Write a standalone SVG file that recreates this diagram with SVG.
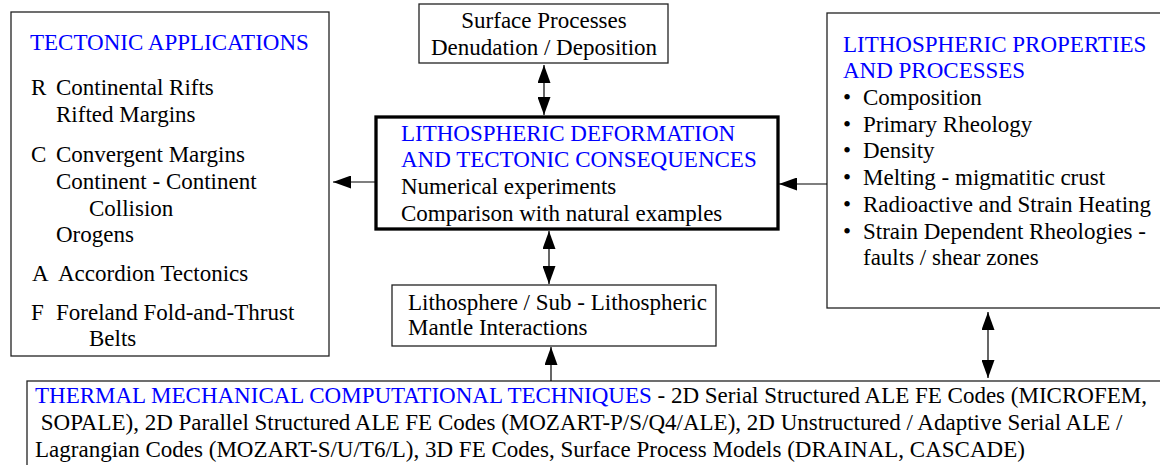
<svg xmlns="http://www.w3.org/2000/svg" width="1160" height="465" viewBox="0 0 1160 465">
<style>
text{font-family:"Liberation Serif","Times New Roman",serif;font-size:23px;fill:#000}
.h{fill:#0000ff}
.box{fill:#fff;stroke:#222;stroke-width:1.3}
.main{fill:#fff;stroke:#000;stroke-width:3.3}
.c{stroke:#000;stroke-width:1.2;fill:none}
</style>
<defs>
<marker id="ah" markerWidth="18" markerHeight="13" refX="18" refY="6.5" orient="auto-start-reverse" markerUnits="userSpaceOnUse"><path d="M0,0 L18,6.5 L0,13 z" fill="#000"/></marker>
</defs>
<rect width="1160" height="465" fill="#fff"/>

<g id="tectonic-applications">
<rect class="box" x="11" y="12" width="318" height="344"/>
<text class="h" x="30" y="50">TECTONIC APPLICATIONS</text>
<text x="31" y="95">R</text><text x="56" y="95">Continental Rifts</text>
<text x="56" y="122">Rifted Margins</text>
<text x="31" y="162">C</text><text x="56" y="162">Convergent Margins</text>
<text x="56" y="189">Continent - Continent</text>
<text x="89" y="216">Collision</text>
<text x="56" y="242">Orogens</text>
<text x="32" y="281">A</text><text x="58" y="281">Accordion Tectonics</text>
<text x="31" y="320">F</text><text x="56" y="320">Foreland Fold-and-Thrust</text>
<text x="89" y="346">Belts</text>
</g>

<g id="surface-processes">
<rect class="box" x="419" y="4" width="249" height="59"/>
<text x="544" y="28" text-anchor="middle">Surface Processes</text>
<text x="544" y="55" text-anchor="middle">Denudation / Deposition</text>
</g>

<g id="lithospheric-deformation">
<rect class="main" x="376" y="117" width="402" height="112"/>
<text class="h" x="401" y="141">LITHOSPHERIC DEFORMATION</text>
<text class="h" x="401" y="167">AND TECTONIC CONSEQUENCES</text>
<text x="401" y="194">Numerical experiments</text>
<text x="401" y="221">Comparison with natural examples</text>
</g>

<g id="lithospheric-properties">
<rect class="box" x="827" y="13" width="340" height="295"/>
<text class="h" x="843" y="52">LITHOSPHERIC PROPERTIES</text>
<text class="h" x="843" y="78">AND PROCESSES</text>
<text x="843" y="105">•</text><text x="863" y="105">Composition</text>
<text x="843" y="132">•</text><text x="863" y="132">Primary Rheology</text>
<text x="843" y="158">•</text><text x="863" y="158">Density</text>
<text x="843" y="185">•</text><text x="863" y="185">Melting - migmatitic crust</text>
<text x="843" y="212">•</text><text x="863" y="212">Radioactive and Strain Heating</text>
<text x="843" y="239">•</text><text x="863" y="239">Strain Dependent Rheologies -</text>
<text x="863" y="265">faults / shear zones</text>
</g>

<g id="mantle-interactions">
<rect class="box" x="392" y="285" width="324" height="61"/>
<text x="408" y="310">Lithosphere / Sub - Lithospheric</text>
<text x="408" y="335">Mantle Interactions</text>
</g>

<g id="computational-techniques">
<rect class="box" x="27" y="381" width="1140" height="100"/>
<text x="35" y="403"><tspan class="h">THERMAL MECHANICAL COMPUTATIONAL TECHNIQUES</tspan> - 2D Serial Structured ALE FE Codes (MICROFEM,</text>
<text x="35" y="430" xml:space="preserve"> SOPALE), 2D Parallel Structured ALE FE Codes (MOZART-P/S/Q4/ALE), 2D Unstructured / Adaptive Serial ALE /</text>
<text x="35" y="457">Lagrangian Codes (MOZART-S/U/T6/L), 3D FE Codes, Surface Process Models (DRAINAL, CASCADE)</text>
</g>

<g id="connectors">
<line class="c" x1="544" y1="65" x2="544" y2="115" marker-start="url(#ah)" marker-end="url(#ah)"/>
<line class="c" x1="549" y1="231" x2="549" y2="284" marker-start="url(#ah)" marker-end="url(#ah)"/>
<line class="c" x1="376" y1="182" x2="333" y2="182" marker-end="url(#ah)"/>
<line class="c" x1="827" y1="184" x2="779" y2="184" marker-end="url(#ah)"/>
<line class="c" x1="988" y1="312" x2="988" y2="378" marker-start="url(#ah)" marker-end="url(#ah)"/>
<line class="c" x1="551" y1="381" x2="551" y2="347" marker-end="url(#ah)"/>
</g>
</svg>
